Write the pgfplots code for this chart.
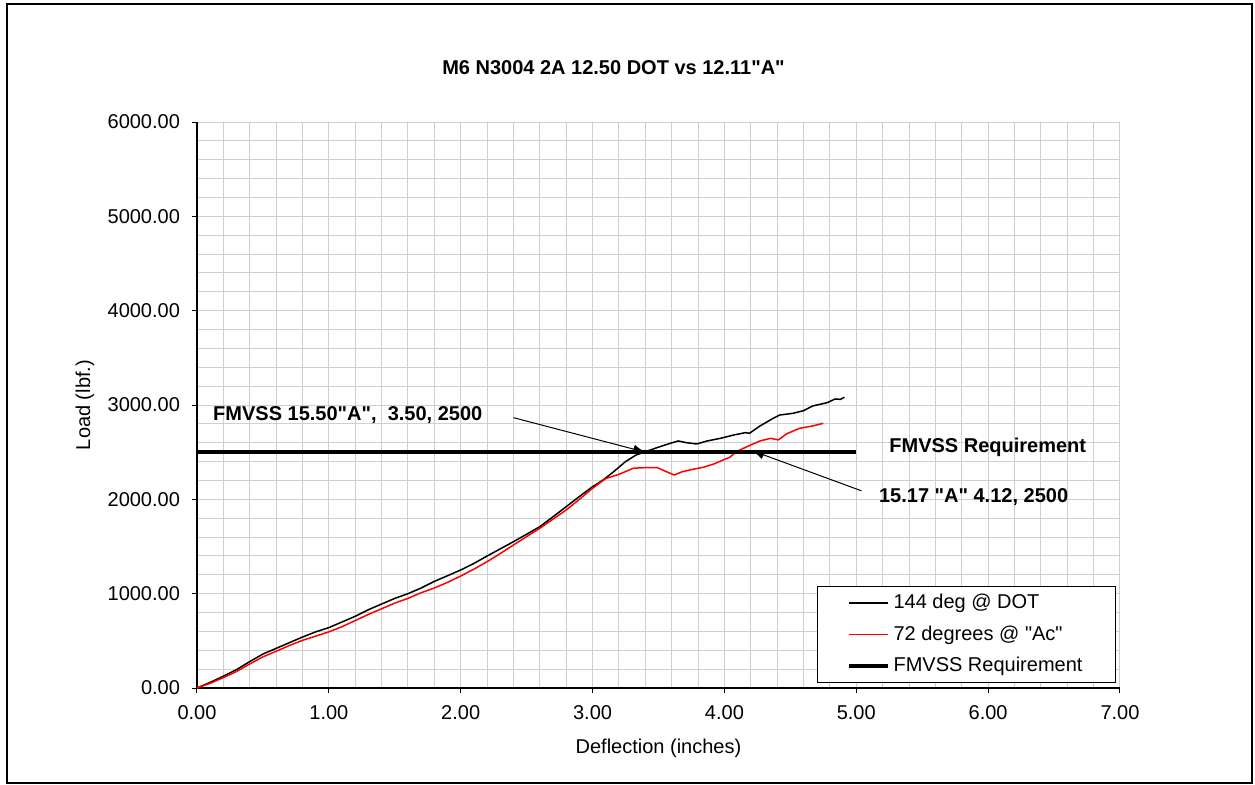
\documentclass[border=0pt]{standalone}
\usepackage{pgfplots}
\pgfplotsset{compat=1.18}
\usepackage{fontspec}
\setmainfont{Liberation Sans}[Ligatures=TeXOff]
\usetikzlibrary{arrows.meta}
\begin{document}
\begin{tikzpicture}
\useasboundingbox (-98.5pt,-48pt) rectangle (529pt,344pt);
\begin{axis}[
  at={(0pt,0pt)}, anchor=south west,
  scale only axis, width=461.5pt, height=283pt,
  xmin=0, xmax=7, ymin=0, ymax=6000,
  xtick={0,1,...,7}, ytick={0,1000,...,6000},
  minor x tick num=4, minor y tick num=4,
  grid=both,
  major grid style={draw=gray!38, line width=0.5pt},
  minor grid style={draw=gray!38, line width=0.5pt},
  axis x line*=bottom, axis y line*=left,
  axis line style={black, line width=0.6pt},
  tick align=outside, major tick length=2.5pt, minor tick length=0pt,
  tick style={black, line width=0.5pt},
  scaled ticks=false,
  /pgf/number format/fixed, /pgf/number format/fixed zerofill,
  /pgf/number format/precision=2, /pgf/number format/1000 sep={},
  /pgf/number format/assume math mode=true,
  ticklabel style={font=\fontsize{10}{12}\selectfont},
  xticklabel style={yshift=-2.5pt},
  yticklabel style={xshift=-2.5pt},
  xlabel={Deflection (inches)}, ylabel={Load (lbf.)},
  label style={font=\fontsize{10}{12}\selectfont},
  xlabel style={at={(axis description cs:0.5,-0.106)}, anchor=center},
  ylabel style={at={(axis description cs:-0.1213,0.5)}, anchor=center},
  legend style={at={(0.9957,0.0088)}, anchor=south east, draw=black, line width=0.5pt,
    font=\fontsize{10}{12}\selectfont, inner xsep=14.5pt, inner ysep=2pt, row sep=3pt},
  legend cell align=left,
  legend image code/.code={\draw[#1] (0pt,0pt) -- (19.5pt,0pt);},
]
\addplot[black, line width=0.75pt] coordinates {
(0,0) (0.1,60) (0.2,125) (0.3,195) (0.4,280) (0.5,360) (0.6,420) (0.7,480)
(0.8,540) (0.9,595) (1.0,640) (1.1,700) (1.2,760) (1.3,830) (1.4,890)
(1.5,950) (1.6,1000) (1.7,1060) (1.8,1130) (1.9,1190) (2.0,1251) (2.1,1320)
(2.2,1399) (2.3,1475) (2.4,1551) (2.5,1630) (2.6,1710) (2.7,1815) (2.8,1922)
(2.9,2030) (3.0,2134) (3.08,2205) (3.16,2293) (3.25,2400) (3.33,2470)
(3.4,2505) (3.51,2558) (3.59,2594) (3.65,2619) (3.71,2601) (3.79,2587)
(3.87,2619) (3.97,2647) (4.07,2682) (4.16,2707) (4.19,2700) (4.27,2778)
(4.37,2859) (4.42,2894) (4.52,2912) (4.60,2940) (4.67,2990) (4.78,3025)
(4.84,3064) (4.88,3060) (4.91,3082)
};
\addlegendentry{144 deg @ DOT}
\addplot[red, line width=0.75pt] coordinates {
(0,0) (0.1,50) (0.2,110) (0.3,175) (0.4,255) (0.5,330) (0.6,390) (0.7,450)
(0.8,505) (0.9,550) (1.0,595) (1.1,650) (1.2,715) (1.3,780) (1.4,840)
(1.5,900) (1.6,950) (1.7,1010) (1.8,1060) (1.9,1120) (2.0,1187) (2.1,1260)
(2.2,1339) (2.3,1425) (2.4,1516) (2.5,1605) (2.6,1693) (2.7,1790) (2.8,1887)
(2.9,2000) (3.0,2117) (3.1,2220) (3.2,2265) (3.26,2300) (3.31,2330)
(3.40,2336) (3.49,2336) (3.56,2293) (3.62,2258) (3.68,2293) (3.76,2318)
(3.84,2340) (3.92,2375) (3.99,2417) (4.04,2445) (4.09,2505) (4.17,2558)
(4.27,2619) (4.35,2647) (4.41,2630) (4.47,2693) (4.57,2753) (4.67,2778)
(4.75,2806)
};
\addlegendentry{72 degrees @ "Ac"}
\addplot[black, line width=2pt] coordinates {(0,2500) (5,2500)};
\addlegendentry{FMVSS Requirement}
\draw[line width=0.5pt, -{Latex[length=6pt,width=4.5pt]}] (axis cs:2.40,2866) -- (axis cs:3.40,2500);
\draw[line width=0.5pt, -{Latex[length=6pt,width=4.5pt]}] (axis cs:5.04,2090) -- (axis cs:4.21,2516);
\node[font=\bfseries\fontsize{10}{12}\selectfont, inner sep=0pt, anchor=base west] at (axis cs:0.12,2841) {FMVSS 15.50"A",\ \ 3.50, 2500};
\node[font=\bfseries\fontsize{10}{12}\selectfont, inner sep=0pt, anchor=base west] at (axis cs:5.248,2498) {FMVSS Requirement};
\node[font=\bfseries\fontsize{10}{12}\selectfont, inner sep=0pt, anchor=base west] at (axis cs:5.17,1964) {15.17 "A" 4.12, 2500};
\end{axis}
\node[font=\bfseries\fontsize{10}{12}\selectfont, inner sep=0pt, anchor=base] at (208.25pt,306.85pt) {M6 N3004 2A 12.50 DOT vs 12.11"A"};
\draw[black, line width=0.6pt] (-95pt,-47.5pt) rectangle (527.5pt,342pt);
\end{tikzpicture}
\end{document}
